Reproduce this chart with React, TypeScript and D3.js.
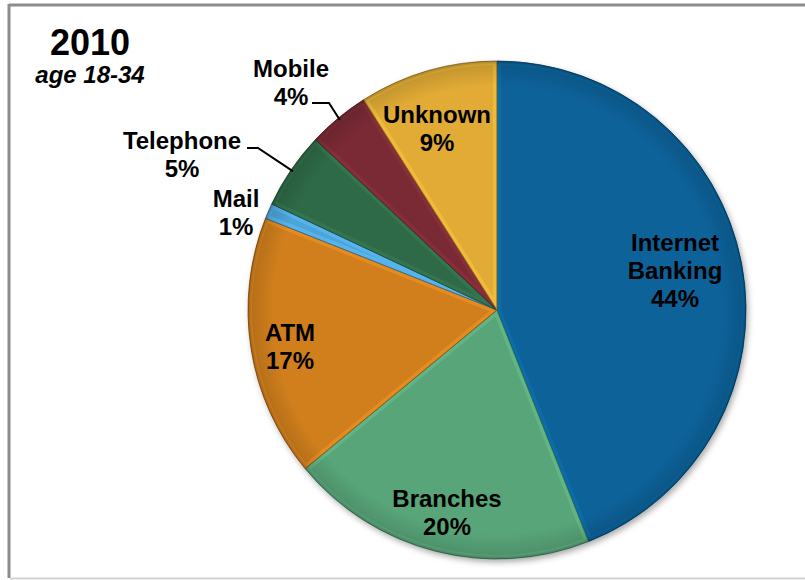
import * as React from "react";
import * as d3 from "d3";

const channels = ["Internet Banking", "Branches", "ATM", "Mail", "Telephone", "Mobile", "Unknown"];
const shares = [44, 20, 17, 1, 5, 4, 9];
const colors = ["#07629a", "#58a579", "#d07f1e", "#4ea4d8", "#2e6a47", "#7a2b34", "#e1ab36"];

// label lines per slice (first lines = name, last = percentage)
const labelLines = [["Internet", "Banking"], ["Branches"], ["ATM"], ["Mail"], ["Telephone"], ["Mobile"], ["Unknown"]];

const W = 805;
const H = 580;
const CX = 497;
const CY = 310;
const R = 249;
const LINE_H = 28;
const FONT = "'Liberation Sans', Arial, sans-serif";

// anchor (center x, first baseline y) of each label, picked by hand like Excel's best fit
const LABEL_POS: [number, number][] = [
  [675, 251],
  [447, 507],
  [290, 341],
  [236, 207],
  [182, 149],
  [291, 77],
  [437, 123],
];
// which slices get a leader line, and where it leaves the text
const LEADERS: Record<number, [number, number, number]> = {
  4: [247, 258, 148],
  5: [312, 329, 103],
};

export default function App() {
  const pie = d3
    .pie<number>()
    .sort(null)
    .value((d) => d);
  const arcs = pie(shares);
  const arc = d3.arc<d3.PieArcDatum<number>>().innerRadius(0).outerRadius(R);
  const edgeArc = d3.arc<d3.PieArcDatum<number>>().innerRadius(R * 0.99).outerRadius(R * 0.99);

  return (
    <svg width={W} height={H} style={{ display: "block", position: "absolute", left: 0, top: 0 }} fontFamily={FONT}>
      <defs>
        <filter id="shadow" x="-10%" y="-10%" width="120%" height="120%">
          <feDropShadow dx="2" dy="3" stdDeviation="3" floodColor="#000" floodOpacity="0.35" />
        </filter>
        {arcs.map((a, i) => (
          <clipPath id={`clip-${i}`} key={i}>
            <path d={arc(a) ?? ""} />
          </clipPath>
        ))}
        <radialGradient id="rim" cx="0.5" cy="0.5" r="0.5">
          <stop offset="0.9" stopColor="#000" stopOpacity="0" />
          <stop offset="0.985" stopColor="#000" stopOpacity="0.12" />
          <stop offset="1" stopColor="#000" stopOpacity="0.3" />
        </radialGradient>
      </defs>

      <rect x={0} y={0} width={W} height={H} fill="#fff" />
      {/* frame */}
      <line x1={9} y1={5} x2={W} y2={5} stroke="#8c8c8c" strokeWidth={3} />
      <line x1={9} y1={4} x2={9} y2={578} stroke="#8c8c8c" strokeWidth={3} />
      <line x1={10} y1={578.5} x2={W} y2={578.5} stroke="#d2d2d2" strokeWidth={2} />

      <text x={90} y={55} textAnchor="middle" fontSize={36} fontWeight="bold">
        2010
      </text>
      <text x={90} y={83} textAnchor="middle" fontSize={24} fontWeight="bold" fontStyle="italic">
        age 18-34
      </text>

      <g transform={`translate(${CX},${CY})`}>
        <g filter="url(#shadow)">
          {arcs.map((a, i) => (
            <path key={i} d={arc(a) ?? ""} fill={colors[i]} />
          ))}
        </g>
        {arcs.map((a, i) => {
          const c = d3.color(colors[i])!;
          return (
            <g key={`bevel-${i}`}>
              <path
                d={arc(a) ?? ""}
                fill="none"
                stroke={c.brighter(0.5).formatHex()}
                strokeWidth={8}
                strokeOpacity={0.5}
                clipPath={`url(#clip-${i})`}
              />
              <path
                d={arc(a) ?? ""}
                fill="none"
                stroke={c.darker(1.2).formatHex()}
                strokeWidth={1}
                strokeOpacity={0.8}
              />
            </g>
          );
        })}
        <circle r={R} fill="url(#rim)" />
      </g>

      {Object.entries(LEADERS).map(([k, [x0, x1, y]]) => {
        const i = +k;
        const [ex, ey] = edgeArc.centroid(arcs[i]);
        return (
          <polyline
            key={`lead-${i}`}
            points={`${x0},${y} ${x1},${y} ${CX + ex},${CY + ey}`}
            fill="none"
            stroke="#000"
            strokeWidth={2}
          />
        );
      })}

      {arcs.map((a, i) => {
        const [lx, ly] = LABEL_POS[i];
        const lines = [...labelLines[i], `${shares[i]}%`];
        return (
          <text key={`lab-${i}`} x={lx} y={ly} textAnchor="middle" fontSize={24} fontWeight="bold" fill="#000">
            {lines.map((t, j) => (
              <tspan key={j} x={lx} y={ly + j * LINE_H}>
                {t}
              </tspan>
            ))}
          </text>
        );
      })}
    </svg>
  );
}
